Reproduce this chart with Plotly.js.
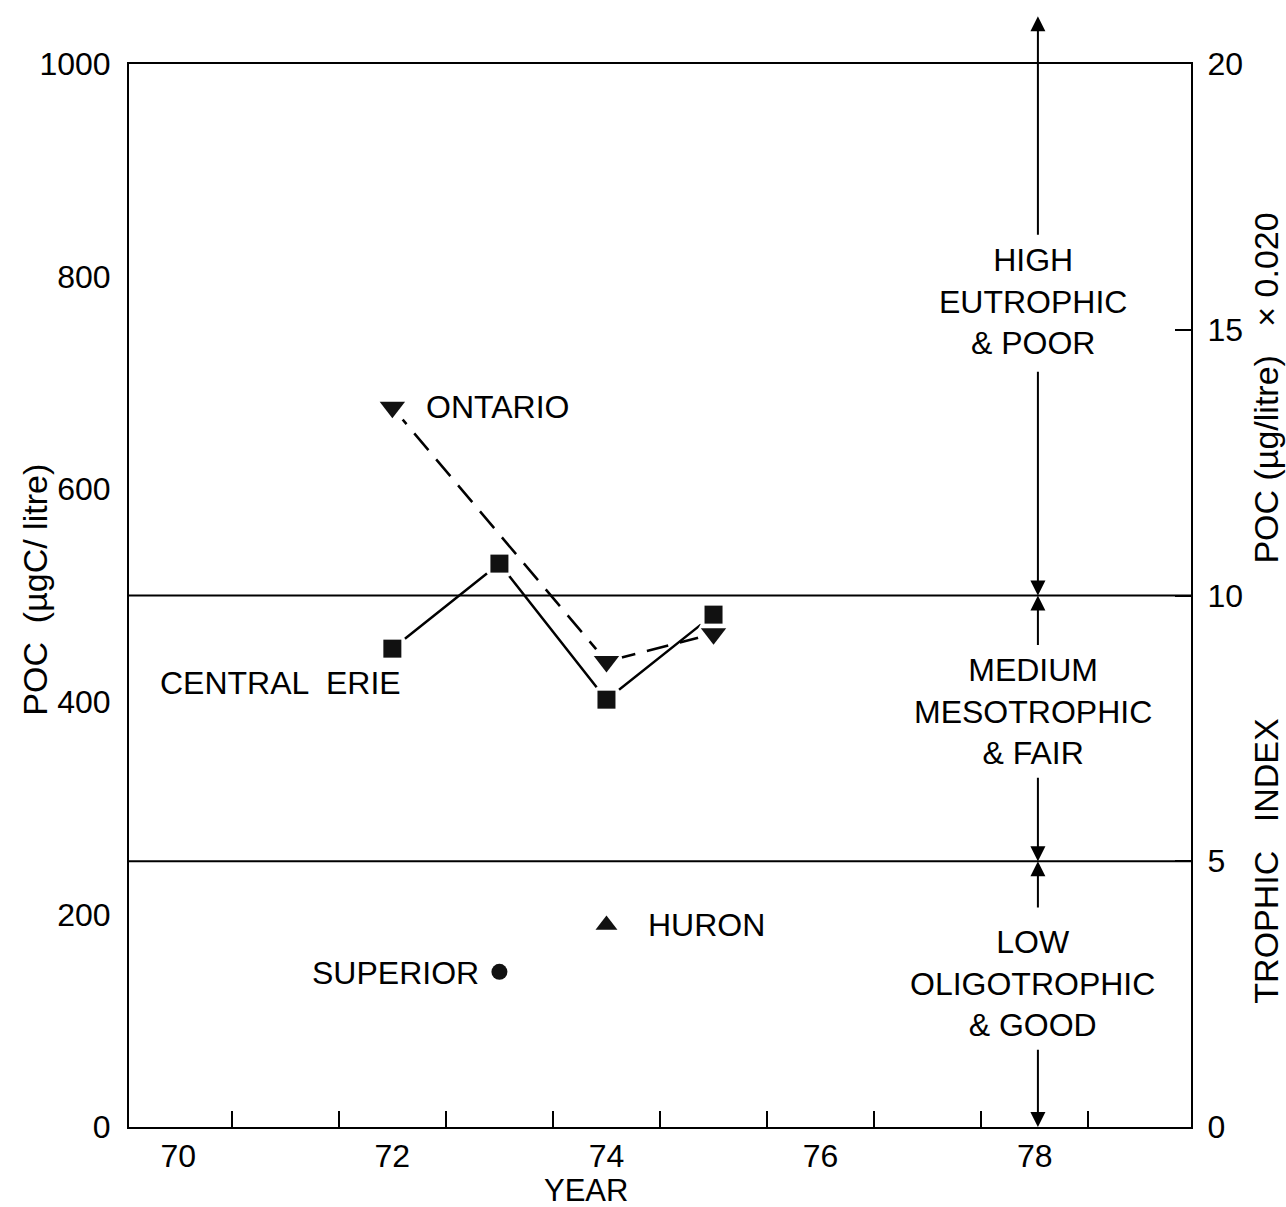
<!DOCTYPE html>
<html>
<head>
<meta charset="utf-8">
<script src="https://cdn.plot.ly/plotly-3.0.1.min.js"></script>
<style>
  html, body { margin: 0; padding: 0; background: #fff; }
  #chart { width: 1286px; height: 1207px; }
</style>
</head>
<body>
<div id="chart"></div>
<script>
// Particulate organic carbon (POC) by year for the Great Lakes
const erieYears = [72, 73, 74, 75];
const erieVals = [450, 530, 402, 482];
const ontarioYears = [72, 74, 75];
const ontarioVals = [677, 438, 464];
const huronYears = [74];
const huronVals = [190];
const superiorYears = [73];
const superiorVals = [146];

// Axis ticks and labels
const yearLabels = [70, 72, 74, 76, 78];
const yearTicks = [70.5, 71.5, 72.5, 73.5, 74.5, 75.5, 76.5, 77.5, 78.5];
const pocTicks = [0, 200, 400, 600, 800, 1000];
const trophicTicks = [0, 5, 10, 15, 20];

// Trophic class boundaries (POC, µgC/litre) and the class descriptions
const classBounds = [250, 500];
const classTexts = ['LOW<br>OLIGOTROPHIC<br>& GOOD', 'MEDIUM<br>MESOTROPHIC<br>& FAIR', 'HIGH<br>EUTROPHIC<br>& POOR'];
const classTextY = [135, 391, 777];
// Arrow segments: [head, tail] in POC units
const arrowSegs = [[1045, 838], [500, 712], [500, 452], [250, 330], [250, 205], [0, 74]];
const scaleYear = 78.03;
const textYear = 77.98;

const FONT = 'Liberation Sans, Arial, Helvetica, sans-serif';
const FS = 32;

const traces = [
  { x: erieYears, y: erieVals, mode: 'lines', line: { color: '#000', width: 2.5 }, hoverinfo: 'skip' },
  { x: ontarioYears, y: ontarioVals, mode: 'lines', line: { color: '#000', width: 2.5, dash: '22px,12px' }, hoverinfo: 'skip' },
  // white halos leave a small gap between the lines and the symbols
  { x: erieYears.concat(ontarioYears), y: erieVals.concat(ontarioVals), mode: 'markers',
    marker: { color: '#fff', size: 32, symbol: 'circle' }, hoverinfo: 'skip' },
  { x: erieYears, y: erieVals, mode: 'markers', marker: { color: '#111', size: 18, symbol: 'square' } },
  { x: ontarioYears, y: ontarioVals, mode: 'markers', marker: { color: '#111', size: 22, symbol: 'triangle-down' } },
  { x: huronYears, y: huronVals, mode: 'markers', marker: { color: '#111', size: 19, symbol: 'triangle-up' } },
  { x: superiorYears, y: superiorVals, mode: 'markers', marker: { color: '#111', size: 16, symbol: 'circle' } },
  { x: [], y: [], yaxis: 'y2', mode: 'markers', hoverinfo: 'skip' }
];

const annotations = [
  { x: 72.3, y: ontarioVals[0], text: 'ONTARIO', xanchor: 'left' },
  { x: 72.1, y: 418, text: 'CENTRAL  ERIE', xanchor: 'right' },
  { x: 74.37, y: huronVals[0], text: 'HURON', xanchor: 'left' },
  { x: 72.83, y: 145, text: 'SUPERIOR', xanchor: 'right' }
].map(a => Object.assign({ xref: 'x', yref: 'y', showarrow: false, yanchor: 'middle',
  font: { family: FONT, size: FS, color: '#000' } }, a));

classTexts.forEach((t, i) => annotations.push({
  x: textYear, y: classTextY[i], xref: 'x', yref: 'y', text: t, showarrow: false,
  align: 'center', xanchor: 'center', yanchor: 'middle',
  font: { family: FONT, size: FS, color: '#000' }
}));

arrowSegs.forEach(s => annotations.push({
  x: scaleYear, y: s[0], ax: scaleYear, ay: s[1], xref: 'x', yref: 'y', axref: 'x', ayref: 'y',
  text: '', showarrow: true, arrowhead: 2, arrowsize: 1.5, arrowwidth: 2, arrowcolor: '#000', standoff: 0
}));

annotations.push(
  { xref: 'paper', yref: 'paper', x: 0.43, y: -0.0595, text: 'YEAR', showarrow: false,
    xanchor: 'center', yanchor: 'middle', font: { family: FONT, size: 31, color: '#000' } },
  { xref: 'paper', yref: 'paper', x: -0.088, y: 0.505, text: 'POC  (µgC/ litre)', textangle: -90,
    showarrow: false, xanchor: 'center', yanchor: 'middle', font: { family: FONT, size: 34, color: '#000' } },
  { xref: 'paper', yref: 'paper', x: 1.071, y: 0.25, text: 'TROPHIC   INDEX', textangle: -90,
    showarrow: false, xanchor: 'center', yanchor: 'middle', font: { family: FONT, size: 34, color: '#000' } },
  { xref: 'paper', yref: 'paper', x: 1.071, y: 0.695, text: 'POC (µg/litre)   × 0.020', textangle: -90,
    showarrow: false, xanchor: 'center', yanchor: 'middle', font: { family: FONT, size: 34, color: '#000' } }
);

const shapes = classBounds.map(v => ({
  type: 'line', xref: 'paper', yref: 'y', x0: 0, x1: 1, y0: v, y1: v,
  line: { color: '#000', width: 2 }
}));

const layout = {
  width: 1286, height: 1207,
  margin: { l: 129, r: 95, t: 64, b: 80 },
  paper_bgcolor: '#fff', plot_bgcolor: '#fff',
  showlegend: false,
  font: { family: FONT, size: FS, color: '#000' },
  xaxis: {
    range: [69.54, 79.46], tickvals: yearLabels, ticktext: yearLabels.map(String),
    ticks: '', showgrid: false, zeroline: false,
    showline: true, mirror: true, linecolor: '#000', linewidth: 2,
    ticklabelstandoff: 0,
    minor: { tickvals: yearTicks, ticks: 'inside', ticklen: 16, tickwidth: 2, tickcolor: '#000', showgrid: false },
    tickfont: { family: FONT, size: FS, color: '#000' }
  },
  yaxis: {
    range: [0, 1000], tickvals: pocTicks, ticktext: pocTicks.map(String),
    ticks: '', showgrid: false, zeroline: false,
    showline: true, linecolor: '#000', linewidth: 2,
    ticklabelstandoff: 10,
    tickfont: { family: FONT, size: FS, color: '#000' }
  },
  yaxis2: {
    overlaying: 'y', side: 'right', anchor: 'x',
    range: [0, 20], tickvals: trophicTicks, ticktext: trophicTicks.map(String),
    ticks: 'inside', ticklen: 16, tickwidth: 2, tickcolor: '#000',
    showgrid: false, zeroline: false,
    showline: true, linecolor: '#000', linewidth: 2,
    ticklabelstandoff: 8,
    tickfont: { family: FONT, size: FS, color: '#000' }
  },
  annotations: annotations,
  shapes: shapes
};

Plotly.newPlot('chart', traces, layout, { staticPlot: true, displayModeBar: false });
</script>
</body>
</html>
